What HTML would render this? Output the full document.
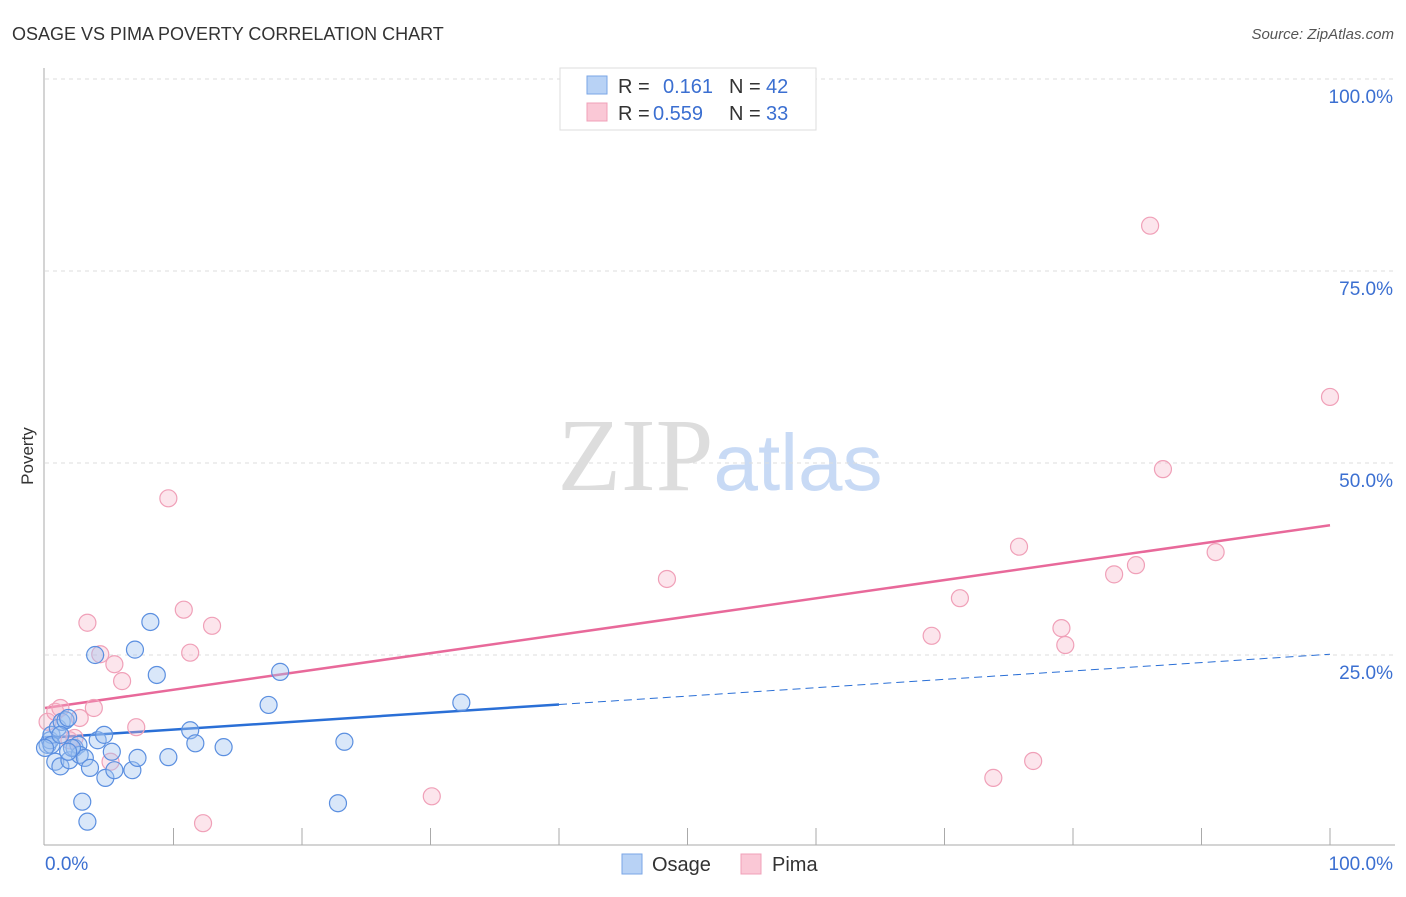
<!DOCTYPE html>
<html><head><meta charset="utf-8"><style>
body{margin:0;background:#fff;font-family:"Liberation Sans",sans-serif}
svg text{font-family:"Liberation Sans",sans-serif}
</style></head><body>
<svg id="chart" width="1406" height="892" xmlns="http://www.w3.org/2000/svg">
<text x="12" y="40" font-size="18" fill="#333">OSAGE VS PIMA POVERTY CORRELATION CHART</text>
<text x="1394" y="39" font-size="15" fill="#555" text-anchor="end" font-style="italic">Source: ZipAtlas.com</text>
<text x="33" y="456" font-size="17" fill="#333" text-anchor="middle" transform="rotate(-90 33 456)">Poverty</text>
<text x="720" y="490" font-size="104" text-anchor="middle"><tspan fill="#ddd" font-family="Liberation Serif">ZIP</tspan><tspan fill="#c8daf5" font-size="80">atlas</tspan></text>
<g id="grid"></g><g id="axes"></g><g id="lines"></g><g id="pts"></g>
<g>
<rect x="560" y="68" width="256" height="62" fill="#fff" stroke="#ddd"/>
<rect x="587" y="76" width="20" height="18" fill="#b8d2f5" stroke="#7aa6e6"/>
<rect x="587" y="103" width="20" height="18" fill="#fac8d6" stroke="#f0a0b8"/>
<text x="618" y="93" font-size="20" fill="#333">R = </text><text x="663" y="93" font-size="20" fill="#3b6fd1">0.161</text>
<text x="729" y="93" font-size="20" fill="#333">N = </text><text x="766" y="93" font-size="20" fill="#3b6fd1">42</text>
<text x="618" y="120" font-size="20" fill="#333">R = </text><text x="653" y="120" font-size="20" fill="#3b6fd1">0.559</text>
<text x="729" y="120" font-size="20" fill="#333">N = </text><text x="766" y="120" font-size="20" fill="#3b6fd1">33</text>
</g>
<g>
<rect x="622" y="854" width="20" height="20" fill="#b8d2f5" stroke="#7aa6e6"/>
<text x="652" y="871" font-size="20" fill="#333">Osage</text>
<rect x="741" y="854" width="20" height="20" fill="#fac8d6" stroke="#f0a0b8"/>
<text x="772" y="871" font-size="20" fill="#333">Pima</text>
</g>
</svg>
<script>
const yTicks=[25,50,75,100];
const yTickLabels=["25.0%","50.0%","75.0%","100.0%"];
const osageX=[0.2,0.4,0.5,0.8,1.0,1.2,1.3,1.6,1.8,1.9,2.3,2.6,2.7,2.9,3.1,3.3,3.5,3.9,4.1,4.6,4.7,5.2,5.4,6.8,7.0,7.2,8.2,8.7,9.6,11.3,11.7,13.9,17.4,18.3,22.8,23.3,32.4,2.1,0.5,1.8,1.2,0];
const osageY=[13.3,13.9,14.6,11.1,15.5,10.5,16.3,16.5,16.8,11.3,12.9,13.3,12.0,5.9,11.6,3.3,10.3,25.0,13.9,14.6,9.0,12.4,10.0,10.0,25.7,11.6,29.3,22.4,11.7,15.2,13.5,13.0,18.5,22.8,5.7,13.7,18.8,12.9,13.3,12.4,14.6,12.9];
const pimaX=[0.2,0.8,1.2,1.9,2.3,2.7,3.3,3.8,4.3,5.1,5.4,6.0,7.1,9.6,10.8,11.3,12.3,13.0,30.1,48.4,69.0,71.2,73.8,75.8,76.9,79.1,79.4,83.2,84.9,86.0,87.0,91.1,100];
const pimaY=[16.3,17.6,18.1,13.9,14.2,16.8,29.2,18.1,25.1,11.1,23.8,21.6,15.6,45.4,30.9,25.3,3.1,28.8,6.6,34.9,27.5,32.4,9.0,39.1,11.2,28.5,26.3,35.5,36.7,80.9,49.2,38.4,58.6];
const osageTrend=[14.2,25.1];
const pimaTrend=[18.1,41.9];
const osageSolidEnd=40;
const xs=v=>45+v*12.85, ys=v=>847-v*7.68;
const NS="http://www.w3.org/2000/svg";
function mk(p,t,a){const e=document.createElementNS(NS,t);for(const k in a)e.setAttribute(k,a[k]);document.getElementById(p).appendChild(e);return e;}
yTicks.forEach((t,i)=>{
 const g=mk('grid','line',{x1:45,x2:1395,y1:ys(t),y2:ys(t),stroke:'#ddd','stroke-dasharray':'4,4'});
 
 
 const l=mk('grid','text',{x:1393,y:ys(t)+24,'font-size':19,fill:'#3b6fd1','text-anchor':'end'});
 l.textContent=yTickLabels[i];
 
 
});
const ax=mk('axes','line',{x1:44,x2:44,y1:68,y2:845,stroke:'#aaa'});


const bx=mk('axes','line',{x1:44,x2:1395,y1:845,y2:845,stroke:'#aaa'});


for(let i=1;i<=10;i++){const t=mk('axes','line',{x1:xs(i*10),x2:xs(i*10),y1:828,y2:845,stroke:'#aaa'});
 
 }
[[0,"0.0%",'start',45],[100,"100.0%",'end',1393]].forEach(d=>{const t=mk('axes','text',{x:d[3],y:870,'font-size':19,fill:'#3b6fd1','text-anchor':d[2]});t.textContent=d[1];
 
 });
const ob=v=>osageTrend[0]+(osageTrend[1]-osageTrend[0])*v/100;
const pt=v=>pimaTrend[0]+(pimaTrend[1]-pimaTrend[0])*v/100;
let e=mk('lines','line',{x1:xs(0),y1:ys(ob(0)),x2:xs(osageSolidEnd),y2:ys(ob(osageSolidEnd)),stroke:'#2a6fd6','stroke-width':2.5});


e=mk('lines','line',{x1:xs(osageSolidEnd),y1:ys(ob(osageSolidEnd)),x2:xs(100),y2:ys(ob(100)),stroke:'#2a6fd6','stroke-width':1,'stroke-dasharray':'8,5'});


e=mk('lines','line',{x1:xs(0),y1:ys(pt(0)),x2:xs(100),y2:ys(pt(100)),stroke:'#e8699a','stroke-width':2.5});


pimaX.forEach((x,i)=>{const c=mk('pts','circle',{cx:xs(x),cy:ys(pimaY[i]),r:8.5,fill:'rgba(247,180,200,0.35)',stroke:'#f0a0b8','stroke-width':1.2});
 
 });
osageX.forEach((x,i)=>{const c=mk('pts','circle',{cx:xs(x),cy:ys(osageY[i]),r:8.5,fill:'rgba(160,195,240,0.4)',stroke:'#5b8fe0','stroke-width':1.2});
 
 });
</script>
</body></html>
